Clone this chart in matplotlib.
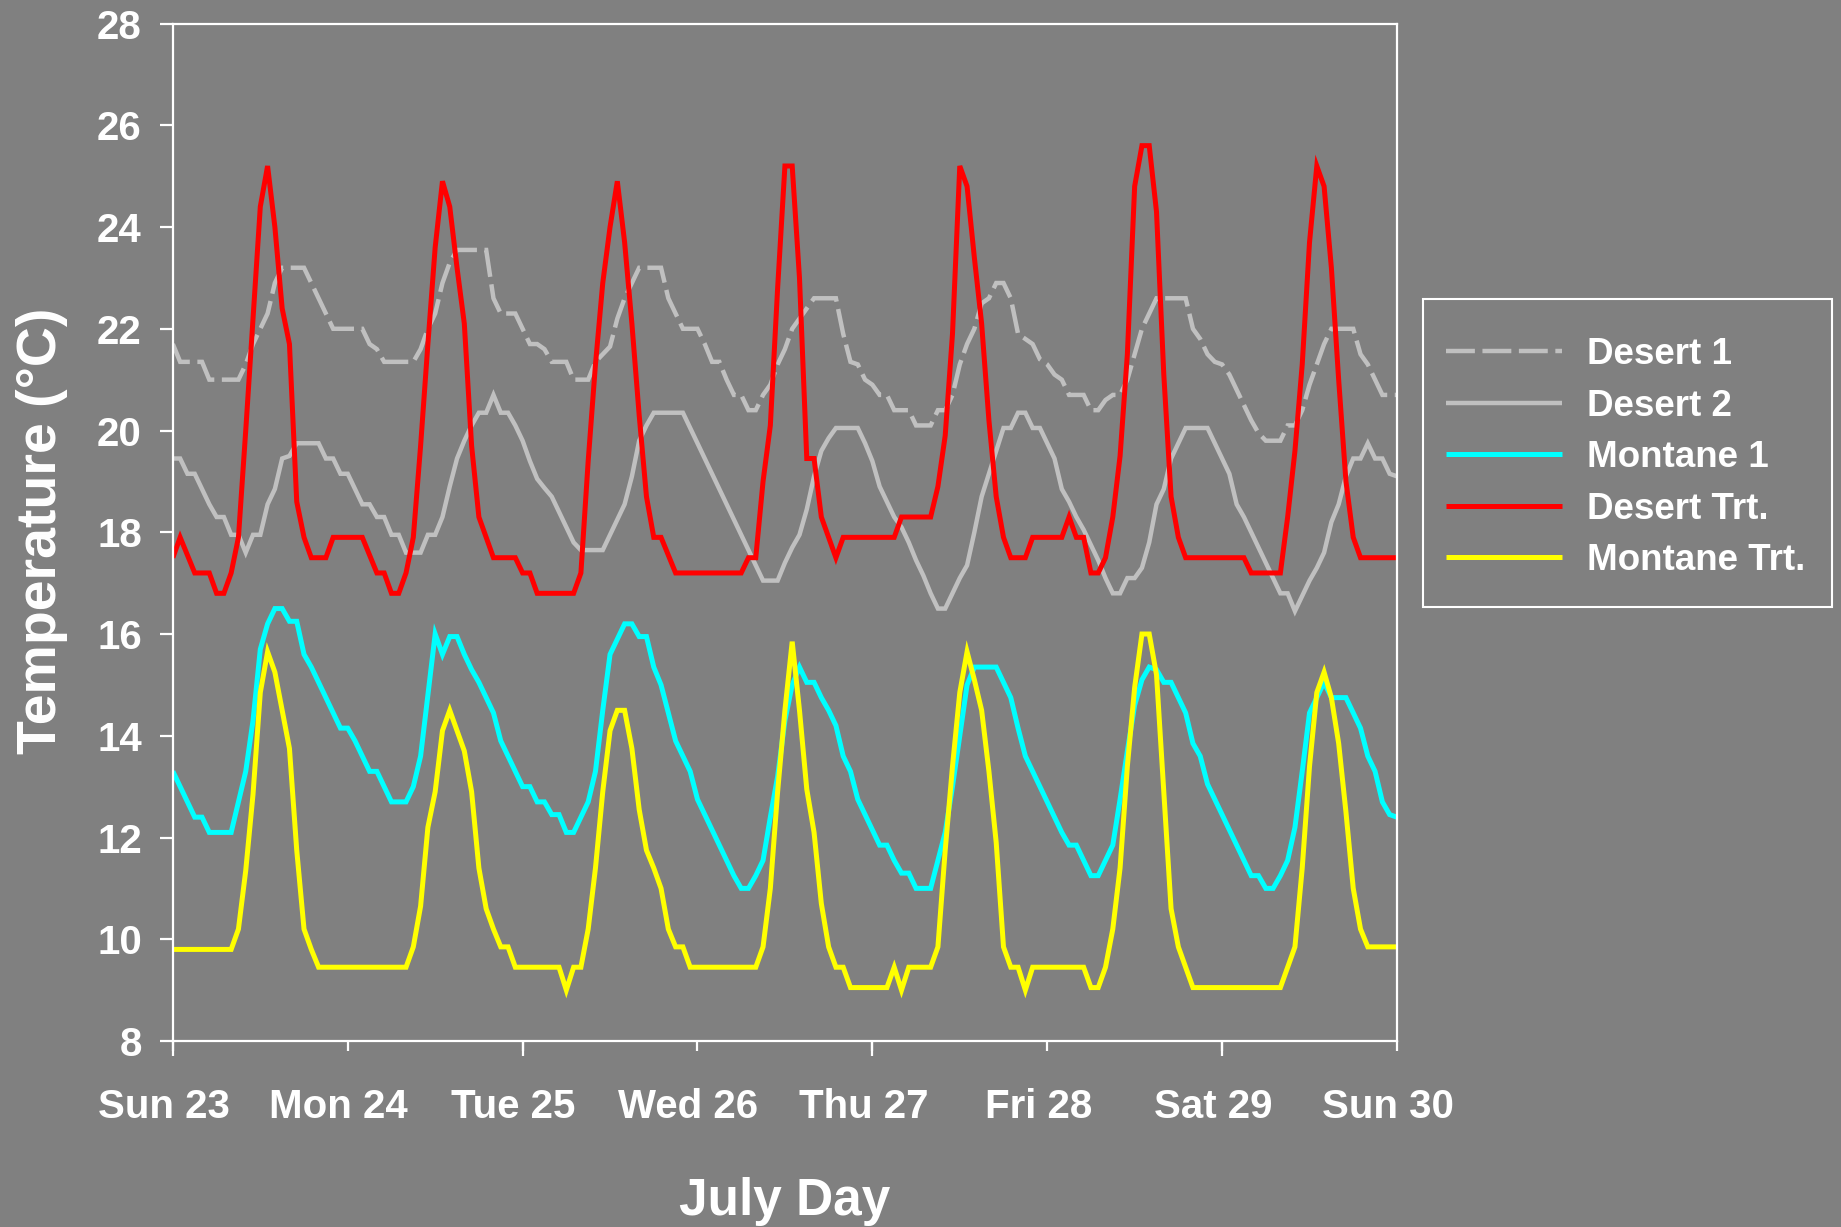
import matplotlib
matplotlib.use("Agg")
import matplotlib.pyplot as plt
import matplotlib.transforms as mtransforms
from matplotlib.patches import Rectangle
import numpy as np

# ---------------- data (hourly readings, Sun 23 00:00 -> Sun 30 00:00) ----------------
hours = np.arange(169)

day_ticks = [0, 24, 48, 72, 96, 120, 144, 168]
day_labels = ["Sun 23", "Mon 24", "Tue 25", "Wed 26", "Thu 27", "Fri 28", "Sat 29", "Sun 30"]

desert_1 = [
    21.7, 21.35, 21.35, 21.35, 21.35, 21.0, 21.0, 21.0, 21.0, 21.0,
    21.3, 21.7, 22.0, 22.3, 22.9, 23.2, 23.2, 23.2, 23.2, 22.9,
    22.6, 22.3, 22.0, 22.0, 22.0, 22.0, 22.0, 21.7, 21.6, 21.35,
    21.35, 21.35, 21.35, 21.35, 21.6, 22.0, 22.3, 22.9, 23.3, 23.55,
    23.55, 23.55, 23.55, 23.55, 22.6, 22.3, 22.3, 22.3, 22.0, 21.7,
    21.7, 21.6, 21.35, 21.35, 21.35, 21.0, 21.0, 21.0, 21.35, 21.5,
    21.65, 22.2, 22.6, 22.9, 23.2, 23.2, 23.2, 23.2, 22.6, 22.3,
    22.0, 22.0, 22.0, 21.7, 21.35, 21.35, 21.0, 20.7, 20.7, 20.4,
    20.4, 20.7, 20.9, 21.3, 21.6, 22.0, 22.2, 22.4, 22.6, 22.6,
    22.6, 22.6, 21.9, 21.35, 21.3, 21.0, 20.9, 20.7, 20.7, 20.4,
    20.4, 20.4, 20.1, 20.1, 20.1, 20.4, 20.4, 20.7, 21.3, 21.7,
    22.0, 22.5, 22.6, 22.9, 22.9, 22.6, 21.9, 21.8, 21.7, 21.4,
    21.3, 21.1, 21.0, 20.7, 20.7, 20.7, 20.4, 20.4, 20.6, 20.7,
    20.7, 21.0, 21.5, 22.0, 22.3, 22.6, 22.6, 22.6, 22.6, 22.6,
    22.0, 21.8, 21.5, 21.35, 21.3, 21.1, 20.8, 20.5, 20.2, 19.95,
    19.8, 19.8, 19.8, 20.1, 20.1, 20.4, 20.9, 21.3, 21.7, 22.0,
    22.0, 22.0, 22.0, 21.5, 21.3, 21.0, 20.7, 20.7, 20.7,
]

desert_2 = [
    19.45, 19.45, 19.15, 19.15, 18.85, 18.55, 18.3, 18.3, 17.95, 17.95,
    17.6, 17.95, 17.95, 18.55, 18.85, 19.45, 19.5, 19.75, 19.75, 19.75,
    19.75, 19.45, 19.45, 19.15, 19.15, 18.85, 18.55, 18.55, 18.3, 18.3,
    17.95, 17.95, 17.6, 17.6, 17.6, 17.95, 17.95, 18.3, 18.9, 19.45,
    19.8, 20.1, 20.35, 20.35, 20.7, 20.35, 20.35, 20.1, 19.8, 19.4,
    19.05, 18.87, 18.7, 18.4, 18.1, 17.8, 17.65, 17.65, 17.65, 17.65,
    17.95, 18.25, 18.55, 19.1, 19.8, 20.1, 20.35, 20.35, 20.35, 20.35,
    20.35, 20.05, 19.75, 19.45, 19.15, 18.85, 18.55, 18.25, 17.95, 17.65,
    17.35, 17.05, 17.05, 17.05, 17.4, 17.7, 17.95, 18.45, 19.1, 19.6,
    19.85, 20.05, 20.05, 20.05, 20.05, 19.75, 19.4, 18.9, 18.6, 18.3,
    18.1, 17.8, 17.45, 17.15, 16.8, 16.5, 16.5, 16.8, 17.1, 17.35,
    18.0, 18.7, 19.15, 19.6, 20.05, 20.05, 20.35, 20.35, 20.05, 20.05,
    19.75, 19.45, 18.85, 18.6, 18.3, 18.05, 17.75, 17.45, 17.1, 16.8,
    16.8, 17.1, 17.1, 17.3, 17.8, 18.55, 18.85, 19.45, 19.75, 20.05,
    20.05, 20.05, 20.05, 19.75, 19.45, 19.15, 18.55, 18.3, 18.0, 17.7,
    17.4, 17.1, 16.8, 16.8, 16.45, 16.75, 17.05, 17.3, 17.6, 18.2,
    18.55, 19.1, 19.45, 19.45, 19.75, 19.45, 19.45, 19.15, 19.1,
]

montane_1 = [
    13.3, 13.0, 12.7, 12.4, 12.4, 12.1, 12.1, 12.1, 12.1, 12.7,
    13.3, 14.3, 15.7, 16.2, 16.5, 16.5, 16.25, 16.25, 15.6, 15.35,
    15.05, 14.75, 14.45, 14.15, 14.15, 13.9, 13.6, 13.3, 13.3, 13.0,
    12.7, 12.7, 12.7, 13.0, 13.6, 14.8, 16.0, 15.6, 15.95, 15.95,
    15.6, 15.3, 15.05, 14.75, 14.45, 13.9, 13.6, 13.3, 13.0, 13.0,
    12.7, 12.7, 12.45, 12.45, 12.1, 12.1, 12.4, 12.7, 13.3, 14.5,
    15.6, 15.9, 16.2, 16.2, 15.95, 15.95, 15.35, 15.0, 14.45, 13.9,
    13.6, 13.3, 12.75, 12.45, 12.15, 11.85, 11.55, 11.25, 11.0, 11.0,
    11.25, 11.55, 12.4, 13.2, 14.3, 15.0, 15.35, 15.05, 15.05, 14.75,
    14.5, 14.2, 13.6, 13.3, 12.75, 12.45, 12.15, 11.85, 11.85, 11.55,
    11.3, 11.3, 11.0, 11.0, 11.0, 11.55, 12.1, 13.0, 14.0, 15.0,
    15.35, 15.35, 15.35, 15.35, 15.05, 14.75, 14.15, 13.6, 13.3, 13.0,
    12.7, 12.4, 12.1, 11.85, 11.85, 11.55, 11.25, 11.25, 11.55, 11.85,
    12.75, 13.7, 14.6, 15.1, 15.35, 15.3, 15.05, 15.05, 14.75, 14.45,
    13.85, 13.6, 13.05, 12.75, 12.45, 12.15, 11.85, 11.55, 11.25, 11.25,
    11.0, 11.0, 11.25, 11.55, 12.2, 13.3, 14.45, 14.75, 15.05, 14.75,
    14.75, 14.75, 14.45, 14.15, 13.6, 13.3, 12.7, 12.45, 12.4,
]

desert_trt = [
    17.5, 17.9, 17.55, 17.2, 17.2, 17.2, 16.8, 16.8, 17.2, 17.9,
    20.0, 22.2, 24.4, 25.2, 24.0, 22.4, 21.7, 18.6, 17.9, 17.5,
    17.5, 17.5, 17.9, 17.9, 17.9, 17.9, 17.9, 17.55, 17.2, 17.2,
    16.8, 16.8, 17.2, 17.9, 19.7, 21.7, 23.6, 24.9, 24.4, 23.2,
    22.1, 19.7, 18.3, 17.9, 17.5, 17.5, 17.5, 17.5, 17.2, 17.2,
    16.8, 16.8, 16.8, 16.8, 16.8, 16.8, 17.2, 19.4, 21.3, 22.9,
    24.0, 24.9, 23.7, 22.1, 20.3, 18.7, 17.9, 17.9, 17.55, 17.2,
    17.2, 17.2, 17.2, 17.2, 17.2, 17.2, 17.2, 17.2, 17.2, 17.5,
    17.5, 19.0, 20.1, 22.8, 25.2, 25.2, 23.0, 19.45, 19.45, 18.3,
    17.9, 17.5, 17.9, 17.9, 17.9, 17.9, 17.9, 17.9, 17.9, 17.9,
    18.3, 18.3, 18.3, 18.3, 18.3, 18.9, 19.9, 21.9, 25.2, 24.8,
    23.4, 22.1, 20.2, 18.7, 17.9, 17.5, 17.5, 17.5, 17.9, 17.9,
    17.9, 17.9, 17.9, 18.3, 17.9, 17.9, 17.2, 17.2, 17.5, 18.3,
    19.5, 21.5, 24.8, 25.6, 25.6, 24.3, 21.1, 18.7, 17.9, 17.5,
    17.5, 17.5, 17.5, 17.5, 17.5, 17.5, 17.5, 17.5, 17.2, 17.2,
    17.2, 17.2, 17.2, 18.3, 19.6, 21.3, 23.7, 25.2, 24.8, 23.2,
    21.0, 19.0, 17.9, 17.5, 17.5, 17.5, 17.5, 17.5, 17.5,
]

montane_trt = [
    9.8, 9.8, 9.8, 9.8, 9.8, 9.8, 9.8, 9.8, 9.8, 10.2,
    11.35, 12.85, 14.85, 15.65, 15.25, 14.5, 13.75, 11.75, 10.2, 9.8,
    9.45, 9.45, 9.45, 9.45, 9.45, 9.45, 9.45, 9.45, 9.45, 9.45,
    9.45, 9.45, 9.45, 9.85, 10.65, 12.2, 12.9, 14.1, 14.5, 14.1,
    13.7, 12.9, 11.4, 10.6, 10.2, 9.85, 9.85, 9.45, 9.45, 9.45,
    9.45, 9.45, 9.45, 9.45, 9.0, 9.45, 9.45, 10.2, 11.4, 12.9,
    14.1, 14.5, 14.5, 13.75, 12.55, 11.75, 11.4, 11.0, 10.2, 9.85,
    9.85, 9.45, 9.45, 9.45, 9.45, 9.45, 9.45, 9.45, 9.45, 9.45,
    9.45, 9.85, 11.0, 12.9, 14.5, 15.85, 14.5, 12.95, 12.1, 10.7,
    9.85, 9.45, 9.45, 9.05, 9.05, 9.05, 9.05, 9.05, 9.05, 9.45,
    9.0, 9.45, 9.45, 9.45, 9.45, 9.85, 11.75, 13.4, 14.85, 15.65,
    15.1, 14.5, 13.3, 11.9, 9.85, 9.45, 9.45, 9.0, 9.45, 9.45,
    9.45, 9.45, 9.45, 9.45, 9.45, 9.45, 9.05, 9.05, 9.45, 10.2,
    11.4, 13.4, 14.95, 16.0, 16.0, 15.2, 12.9, 10.6, 9.85, 9.45,
    9.05, 9.05, 9.05, 9.05, 9.05, 9.05, 9.05, 9.05, 9.05, 9.05,
    9.05, 9.05, 9.05, 9.45, 9.85, 11.4, 13.4, 14.85, 15.25, 14.75,
    13.85, 12.5, 11.0, 10.2, 9.85, 9.85, 9.85, 9.85, 9.85,
]

series_names = ["Desert 1", "Desert 2", "Montane 1", "Desert Trt.", "Montane Trt."]
series_data = [desert_1, desert_2, montane_1, desert_trt, montane_trt]

# ---------------- styling ----------------
BG = "#808080"
colors = ["#C0C0C0", "#C0C0C0", "#00FFFF", "#FF0000", "#FFFF00"]
widths = [3.2, 3.2, 3.6, 3.6, 3.6]
styles = [(0, (6.5, 1.7)), "-", "-", "-", "-"]

plt.rcParams["font.family"] = ["Liberation Sans", "DejaVu Sans"]
plt.rcParams["font.weight"] = "bold"

fig = plt.figure(figsize=(18.41, 12.27), dpi=100, facecolor=BG)
ax = fig.add_axes([0.0939, 0.1516, 0.6649, 0.8292], facecolor=BG)

for name, data, c, lw, ls in zip(series_names, series_data, colors, widths, styles):
    ax.plot(hours, data, color=c, lw=lw, linestyle=ls, label=name,
            solid_joinstyle="miter", dash_joinstyle="miter",
            solid_capstyle="butt", dash_capstyle="butt")

ax.set_xlim(0, 168)
ax.set_ylim(8, 28)

for sp in ax.spines.values():
    sp.set_color("white")
    sp.set_linewidth(1.6)

ax.set_yticks(np.arange(8, 29, 2))
ax.tick_params(axis="y", colors="white", width=1.6, length=9.4, pad=13,
               labelsize=29, direction="out")
ax.set_xticks(day_ticks)
ax.set_xticklabels(day_labels)
ax.xaxis.remove_overlapping_locs = False
ax.set_xticks(day_ticks[::2], minor=True)
ax.tick_params(axis="x", which="major", colors="white", width=1.6, length=7.2,
               pad=26.5, labelsize=29, direction="out")
ax.tick_params(axis="x", which="minor", colors="white", width=1.6, length=10.8,
               direction="out")
for lab in ax.get_xticklabels() + ax.get_yticklabels():
    lab.set_fontweight("bold")
    lab.set_color("white")
offset = mtransforms.ScaledTranslation(-9 / 100, 0, fig.dpi_scale_trans)
for lab in ax.get_xticklabels():
    lab.set_transform(lab.get_transform() + offset)

fig.text(42 / 1841, 1 - 531 / 1227, "Temperature (°C)", rotation=90,
         ha="center", va="center", color="white", fontsize=40, fontweight="bold")
fig.text(785 / 1841, 1 - 1201.5 / 1227, "July Day",
         ha="center", va="center", color="white", fontsize=37, fontweight="bold")

# legend box drawn separately, entries placed inside it
fig.patches.append(Rectangle((1423 / 1841, (1227 - 607) / 1227), 409 / 1841, 308 / 1227,
                             transform=fig.transFigure, facecolor="none",
                             edgecolor="white", linewidth=1.5, zorder=5))
leg = ax.legend(loc="upper left", bbox_to_anchor=(1446 / 1841, 890 / 1227),
                bbox_transform=fig.transFigure, borderaxespad=0, borderpad=0,
                fontsize=26.5, frameon=False, handlelength=3.15,
                handletextpad=0.68, labelspacing=0.45)
for t in leg.get_texts():
    t.set_color("white")
    t.set_fontweight("bold")

fig.savefig("out.png", dpi=100, facecolor=BG)
